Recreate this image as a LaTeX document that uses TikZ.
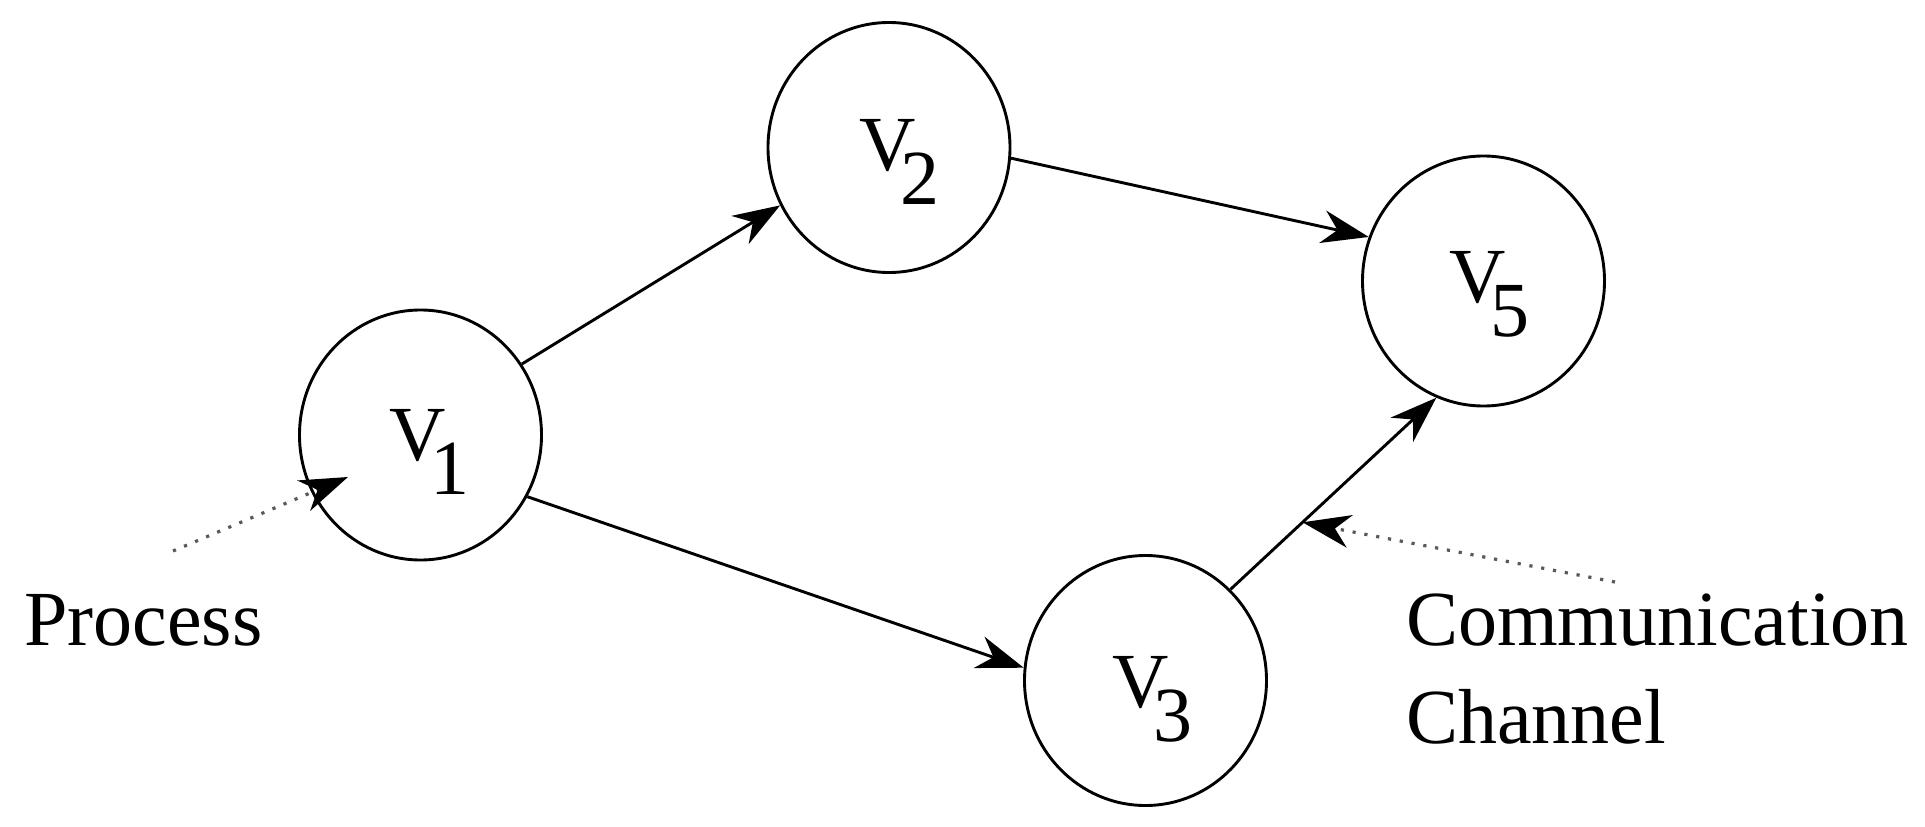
\documentclass[tikz,border=0pt]{standalone}
\usepackage{fontspec}
\setmainfont{Liberation Serif}
\usetikzlibrary{arrows.meta,shapes.geometric}
\newcommand\Vlab[1]{V\kern-15pt\raisebox{-34pt}{#1}}
\newcommand\bigfont{\fontsize{78pt}{98pt}\selectfont}
\begin{document}
\begin{tikzpicture}[x=1pt,y=-1pt,
  vertex/.style={ellipse, draw, line width=2.9pt, minimum width=242pt, minimum height=250pt, inner sep=0pt},
  vlabel/.style={anchor=base west, inner sep=0pt, font=\bigfont},
  txt/.style={anchor=base west, inner sep=0pt, font=\bigfont, align=left},
  conn/.style={line width=2.9pt, -{Stealth[length=47pt,width=33pt,inset=15pt]}},
  pointer/.style={line width=3.2pt, black!65, dash pattern=on 3.2pt off 8.8pt,
    -{Stealth[length=48pt,width=33pt,inset=15pt,color=black]}}]
\useasboundingbox (0,0) rectangle (1925,827);

\node[vertex] (v1) at (420.5,435) {};
\node[vertex] (v2) at (889,147.5) {};
\node[vertex] (v5) at (1483.5,281) {};
\node[vertex] (v3) at (1145.5,680.5) {};

\node[vlabel] (l1) at (389,460) {\Vlab{1}};
\node[vlabel] (l2) at (859,170) {\Vlab{2}};
\node[vlabel] (l5) at (1449,302) {\Vlab{5}};
\node[vlabel] (l3) at (1112,707) {\Vlab{3}};

\draw[conn] (v1.35.1) -- (v2.208.4);
\draw[conn] (v2.-5.8) -- (v5.159.9);
\draw[conn] (v1.-30) -- (v3.174.7);
\draw[conn] (v3.47.8) -- coordinate[pos=0.35] (ch) (v5.248.3);

\node[txt] (proc) at (24,645) {Process};
\node[txt] (comm) at (1406,743) {Communication\\Channel};

\coordinate (pstart) at (173,551);
\coordinate (ptip) at (348,477);
\coordinate (cstart) at (1615,582);

\draw[pointer] (pstart) -- (ptip);
\draw[pointer] (cstart) -- (ch);
\end{tikzpicture}
\end{document}
